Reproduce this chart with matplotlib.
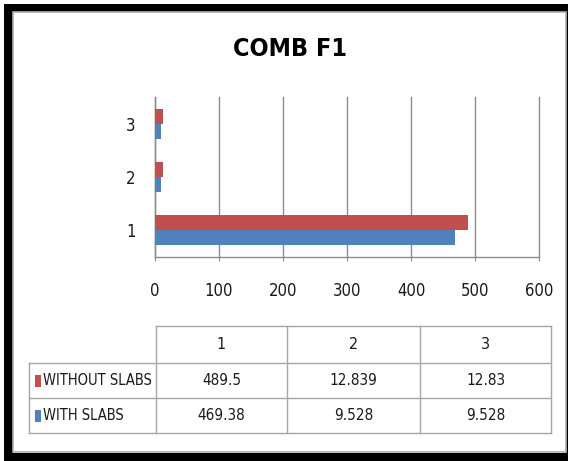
import matplotlib
matplotlib.use("Agg")
import matplotlib.pyplot as plt
from matplotlib.patches import Rectangle
from matplotlib.lines import Line2D

# ---- data ----
title = "COMB F1"
categories = ["1", "2", "3"]
series_names = ["WITHOUT SLABS", "WITH SLABS"]
without_slabs = [489.5, 12.839, 12.83]
with_slabs = [469.38, 9.528, 9.528]
x_ticks = [0, 100, 200, 300, 400, 500, 600]

RED = "#C0504D"
BLUE = "#4F81BD"
GRID = "#8C8C8C"
TLINE = "#A6A6A6"
TXT = "#1A1A1A"

plt.rcParams["font.family"] = ["DejaVu Sans"]
plt.rcParams["font.stretch"] = "condensed"

W, H = 568, 461
fig = plt.figure(figsize=(W / 100, H / 100), dpi=100)
fig.patch.set_facecolor("white")


def fx(px):
    return px / W


def fy(py):
    return 1 - py / H


def frect(x0, y0, x1, y1, z=-5, **kw):
    fig.add_artist(Rectangle((fx(x0), fy(y1)), fx(x1) - fx(x0), fy(y0) - fy(y1),
                             transform=fig.transFigure, zorder=z, **kw))


def fline(x0, y0, x1, y1, **kw):
    fig.add_artist(Line2D([fx(x0), fx(x1)], [fy(y0), fy(y1)],
                          transform=fig.transFigure, **kw))


# black frame around the chart card
frect(4, 4, 568, 12, facecolor="black", edgecolor="none")
frect(4, 4, 13, 461, facecolor="black", edgecolor="none")
frect(4, 453, 568, 461, facecolor="black", edgecolor="none")
frect(566, 4, 568, 461, facecolor="black", edgecolor="none")
frect(13, 12, 566, 452, facecolor="white", edgecolor="#B0B0B0", linewidth=1.2)

# ---- bar chart ----
ax = fig.add_axes([fx(155), fy(257), fx(539) - fx(155), fy(97) - fy(257)])
ax.set_facecolor("none")
pos = list(range(len(categories)))
bh = 0.28
ax.barh([p - bh / 2 for p in pos], with_slabs, height=bh, color=BLUE, zorder=3)
ax.barh([p + bh / 2 for p in pos], without_slabs, height=bh, color=RED, zorder=3)
ax.set_xlim(x_ticks[0], x_ticks[-1])
ax.set_ylim(-0.5, len(categories) - 0.5)
ax.set_xticks(x_ticks)
ax.set_xticklabels([str(t) for t in x_ticks], fontsize=12, color=TXT)
ax.set_yticks(pos)
ax.set_yticklabels(categories, fontsize=12, color=TXT)
ax.grid(axis="x", color=GRID, linewidth=1.0, zorder=0)
for gl in ax.get_xgridlines():
    gl.set_clip_on(False)
for s in ["top", "right"]:
    ax.spines[s].set_visible(False)
for s in ["left", "bottom"]:
    ax.spines[s].set_color(GRID)
    ax.spines[s].set_linewidth(1.0)
ax.tick_params(axis="x", length=3, color=GRID, pad=15)
ax.tick_params(axis="y", length=0, pad=14)

fig.text(fx(290), fy(49), title, ha="center", va="center",
         fontsize=18, fontweight="bold", color="black")

# ---- data table ----
col_x = [29, 156, 287, 420, 551]
row_y = [326, 363, 398, 433]
lw = 1.0
# header row (no cell above legend column)
fline(col_x[1], row_y[0], col_x[-1], row_y[0], color=TLINE, linewidth=lw)
for y in row_y[1:]:
    fline(col_x[0], y, col_x[-1], y, color=TLINE, linewidth=lw)
fline(col_x[0], row_y[1], col_x[0], row_y[-1], color=TLINE, linewidth=lw)
for x in col_x[1:]:
    fline(x, row_y[0], x, row_y[-1], color=TLINE, linewidth=lw)

for i, c in enumerate(categories):
    cx = (col_x[i + 1] + col_x[i + 2]) / 2
    fig.text(fx(cx), fy((row_y[0] + row_y[1]) / 2), c, ha="center", va="center",
             fontsize=11.5, color=TXT)

rows = [(series_names[0], without_slabs, RED), (series_names[1], with_slabs, BLUE)]
for r, (name, vals, col) in enumerate(rows):
    yc = (row_y[r + 1] + row_y[r + 2]) / 2
    frect(35, yc - 6, 41, yc + 6, z=2, facecolor=col, edgecolor="none")
    fig.text(fx(43), fy(yc), name, ha="left", va="center", fontsize=10.5, color=TXT)
    for i, v in enumerate(vals):
        cx = (col_x[i + 1] + col_x[i + 2]) / 2
        fig.text(fx(cx), fy(yc), str(v), ha="center", va="center",
                 fontsize=11, color=TXT)

fig.savefig("out.png", dpi=100, facecolor=fig.get_facecolor())
